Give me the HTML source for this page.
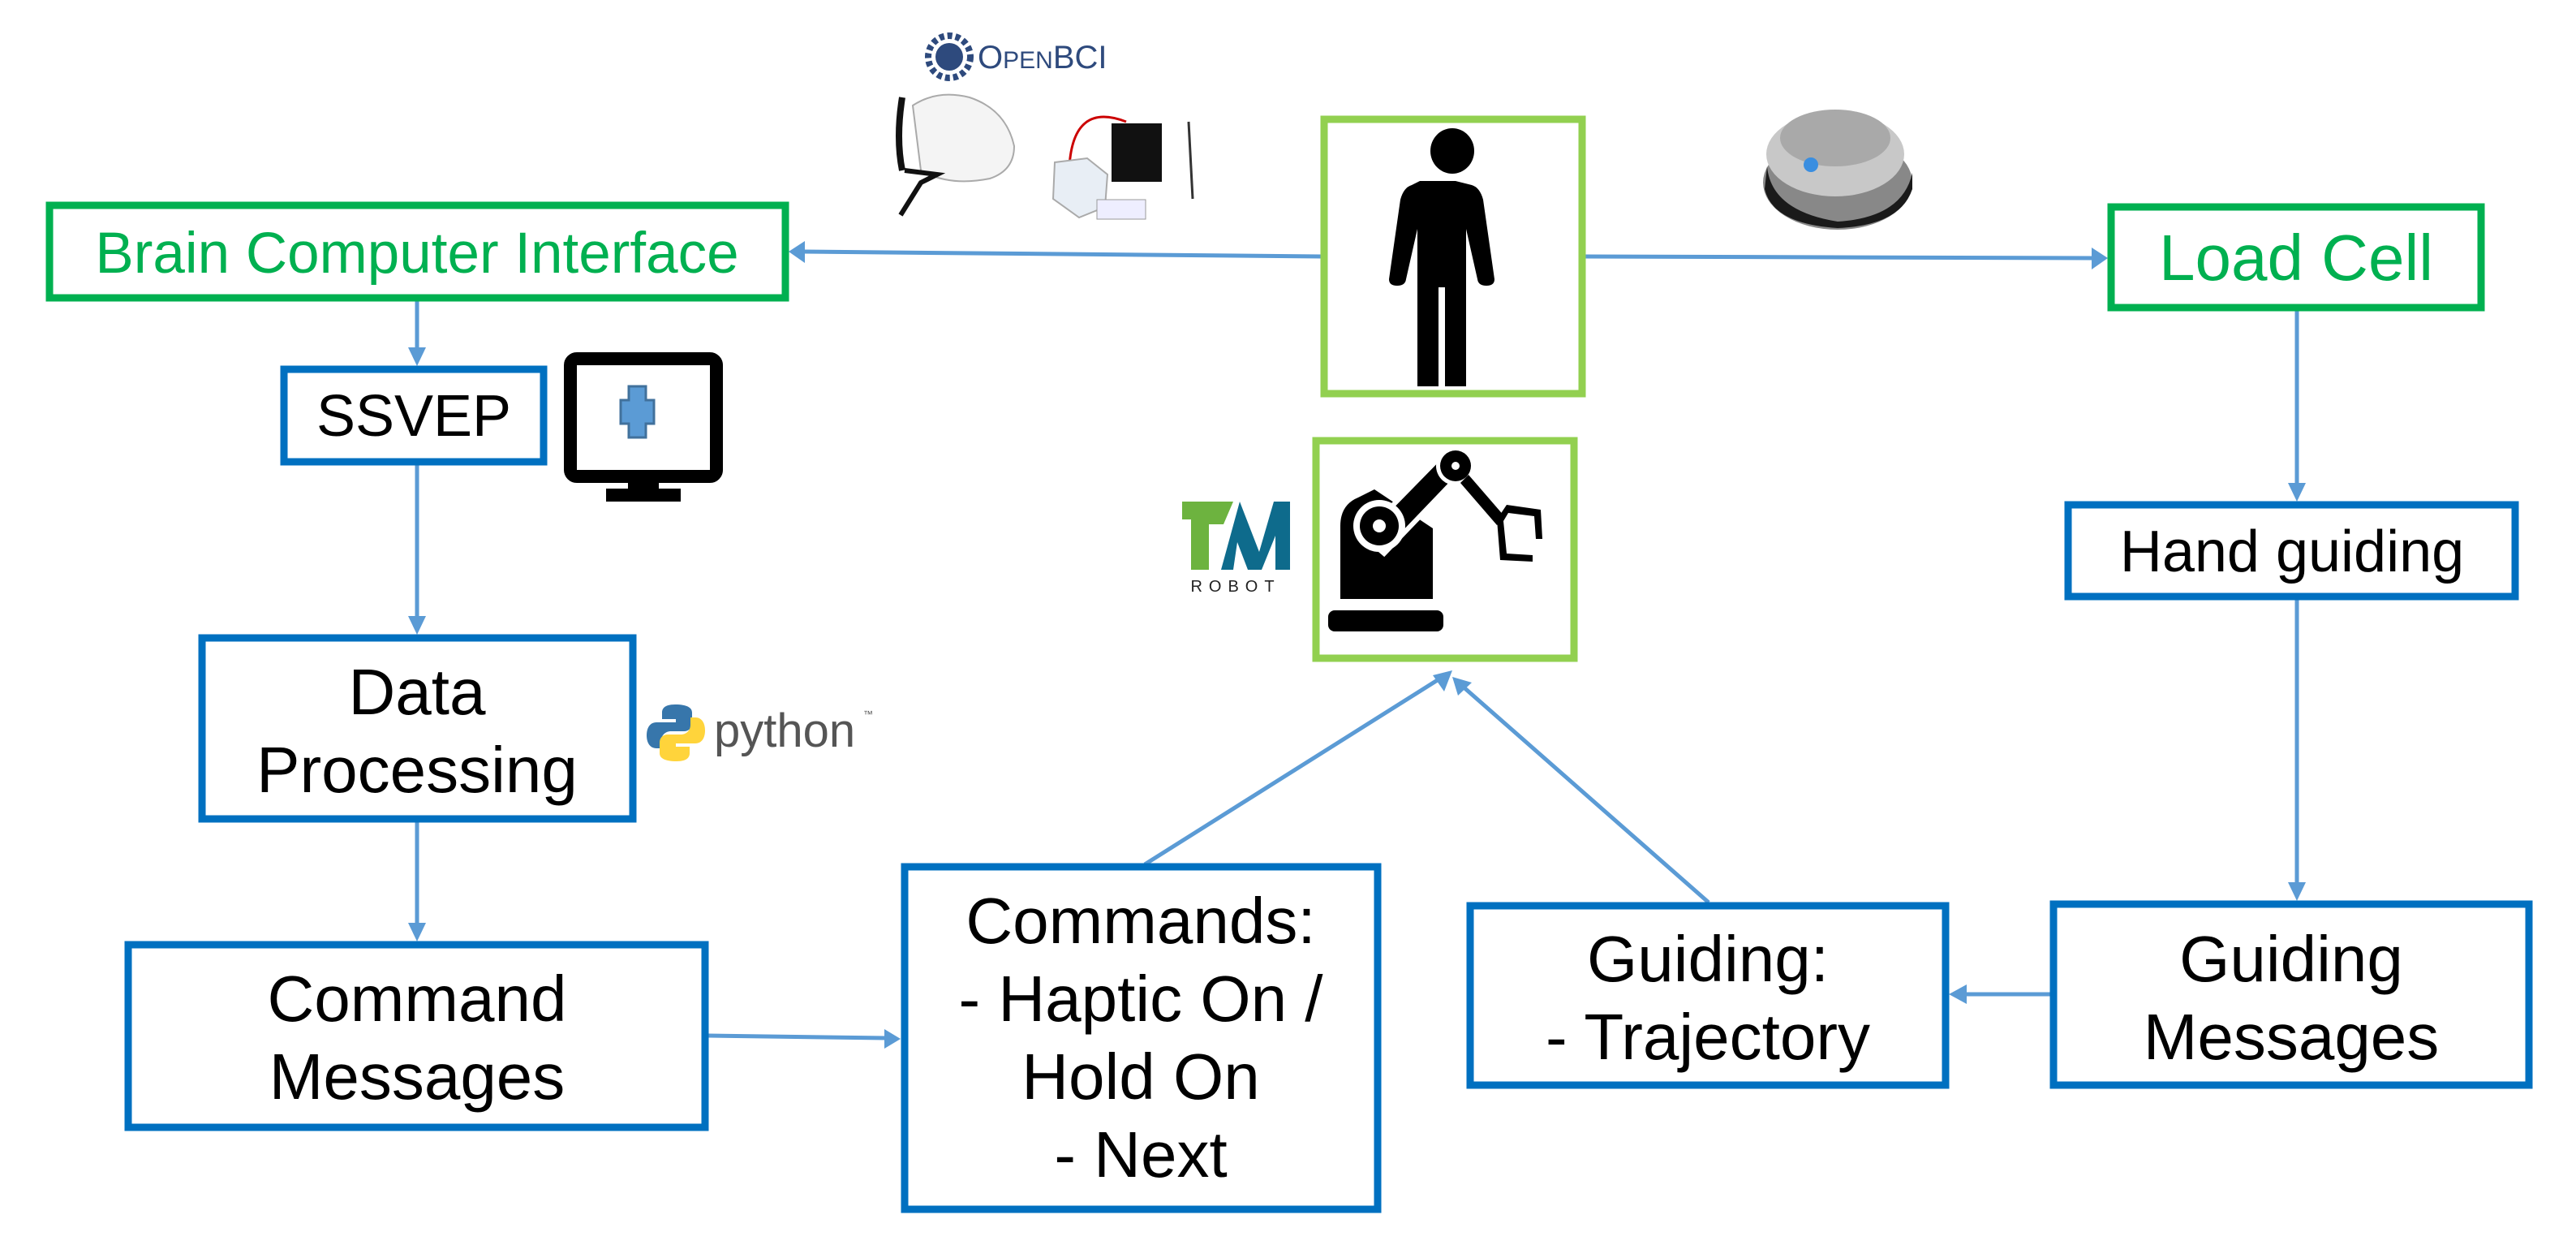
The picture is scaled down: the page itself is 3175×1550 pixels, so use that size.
<!DOCTYPE html>
<html><head><meta charset="utf-8"><style>
html,body{margin:0;padding:0;background:#fff;}
svg{display:block;}
text{font-family:"Liberation Sans",Arial,sans-serif;}
</style></head><body>
<svg width="3175" height="1550" viewBox="0 0 3175 1550" xmlns="http://www.w3.org/2000/svg">
<!-- connectors -->
<g stroke="#5B9BD5" stroke-width="5" fill="none">
<line x1="1628" y1="316" x2="990" y2="310"/>
<line x1="1952" y1="316" x2="2580" y2="318"/>
<line x1="514" y1="371" x2="514" y2="432"/>
<line x1="514" y1="573" x2="514" y2="764"/>
<line x1="514" y1="1013" x2="514" y2="1142"/>
<line x1="873" y1="1276" x2="1092" y2="1279"/>
<line x1="1411" y1="1065" x2="1778" y2="834"/>
<line x1="2106" y1="1112" x2="1802" y2="845"/>
<line x1="2831" y1="383" x2="2831" y2="600"/>
<line x1="2831" y1="739" x2="2831" y2="1092"/>
<line x1="2527" y1="1225" x2="2420" y2="1225"/>
</g>
<g fill="#5B9BD5">
<polygon points="972,310 992,297 992,324"/>
<polygon points="2598,318 2578,305 2578,332"/>
<polygon points="514,451 503,428 525,428"/>
<polygon points="514,782 503,759 525,759"/>
<polygon points="514,1160 503,1137 525,1137"/>
<polygon points="1110,1280 1090,1268 1090,1292"/>
<polygon points="1790,826 1766,832 1780,852"/>
<polygon points="1790,834 1797,857 1814,841"/>
<polygon points="2831,618 2820,595 2842,595"/>
<polygon points="2831,1110 2820,1087 2842,1087"/>
<polygon points="2402,1225 2424,1213 2424,1237"/>
</g>
<!-- boxes -->
<g fill="#fff" stroke-width="9">
<rect x="61" y="253" width="907" height="114" stroke="#00B050"/>
<rect x="2602" y="255" width="456" height="124" stroke="#00B050"/>
<rect x="1632" y="147" width="318" height="338" stroke="#92D050"/>
<rect x="1622" y="543" width="318" height="268" stroke="#92D050"/>
<rect x="350" y="455" width="320" height="114" stroke="#0070C0"/>
<rect x="249" y="786" width="531" height="223" stroke="#0070C0"/>
<rect x="158" y="1164" width="711" height="225" stroke="#0070C0"/>
<rect x="1115" y="1068" width="583" height="422" stroke="#0070C0"/>
<rect x="1812" y="1116" width="586" height="221" stroke="#0070C0"/>
<rect x="2531" y="1114" width="586" height="223" stroke="#0070C0"/>
<rect x="2549" y="622" width="551" height="113" stroke="#0070C0"/>
</g>
<!-- labels -->
<g text-anchor="middle" fill="#000">
<text x="514" y="336" font-size="71" fill="#00B050">Brain Computer Interface</text>
<text x="2830" y="345" font-size="80" fill="#00B050">Load Cell</text>
<text x="510" y="537" font-size="72">SSVEP</text>
<text x="2825" y="704" font-size="72">Hand guiding</text>
<text x="514" y="880" font-size="80">Data</text>
<text x="514" y="976" font-size="80">Processing</text>
<text x="514" y="1258" font-size="80">Command</text>
<text x="514" y="1354" font-size="80">Messages</text>
<text x="1406" y="1162" font-size="80">Commands:</text>
<text x="1406" y="1258" font-size="80">- Haptic On /</text>
<text x="1406" y="1354" font-size="80">Hold On</text>
<text x="1406" y="1450" font-size="80">- Next</text>
<text x="2105" y="1209" font-size="80">Guiding:</text>
<text x="2105" y="1305" font-size="80">- Trajectory</text>
<text x="2824" y="1209" font-size="80">Guiding</text>
<text x="2824" y="1305" font-size="80">Messages</text>
</g>
<!-- monitor -->
<rect x="703" y="442" width="180" height="145" rx="8" fill="#fff" stroke="#000" stroke-width="16"/>
<rect x="774" y="587" width="38" height="18" fill="#000"/>
<rect x="747" y="602" width="92" height="16" fill="#000"/>
<path d="M775 476h21v17h10v29h-10v17h-21v-17h-10v-29h10z" fill="#5B9BD5" stroke="#41719C" stroke-width="3"/>
<!-- python -->
<g>
<path d="M832 868c-14 0-16 6-16 10v8h17v4h-24c-8 0-12 7-12 16s4 16 12 16h6v-9c0-7 5-12 12-12h16c6 0 10-4 10-10v-13c0-6-6-10-21-10z" fill="#3776AB"/>
<path d="M834 938c14 0 16-6 16-10v-8h-17v-4h24c8 0 12-7 12-16s-4-16-12-16h-6v9c0 7-5 12-12 12h-16c-6 0-10 4-10 10v13c0 6 6 10 21 10z" fill="#FFD43B"/>
<text x="880" y="920" font-size="58" fill="#555" font-family="DejaVu Sans, sans-serif">python</text>
<text x="1064" y="884" font-size="12" fill="#555">™</text>
</g>
<!-- person -->
<g fill="#000">
<ellipse cx="1790" cy="186" rx="27" ry="28"/>
<path d="M1740 228q-10 3-14 18l-14 98q0 8 10 8q10 0 11-8l14-62v194h26v-122h8v122h26v-194l14 62q1 8 11 8q10 0 10-8l-14-98q-4-15-14-18l-20-5h-44z"/>
</g>
<!-- robot -->
<g fill="#000">
<rect x="1637" y="752" width="142" height="26" rx="8"/>
<path d="M1652 738v-90q0-26 22-35l20-10l72 48v87z"/>
<path d="M1680 660l98-100l24 22l-96 100z" fill="#000" stroke="#fff" stroke-width="6"/>
<circle cx="1700" cy="648" r="32" fill="#fff"/>
<circle cx="1700" cy="648" r="24" fill="#000"/>
<circle cx="1700" cy="648" r="8" fill="#fff"/>
<circle cx="1794" cy="574" r="24" fill="#fff"/>
<circle cx="1794" cy="574" r="19" fill="#000"/>
<circle cx="1794" cy="574" r="5" fill="#fff"/>
<path d="M1810 585l45 52l-10 10l-45-52z"/>
<path d="M1845 640l12-18l42 6l2 36h-8l-2-28l-32-4l-6 10l4 40l32 2v8l-40-2z"/>
</g>
<!-- TM logo -->
<polygon points="1457,618 1520,618 1508,646 1490,646 1490,702 1468,702 1468,640 1457,640" fill="#6DB33F"/>
<polygon points="1505,702 1528,618 1552,680 1570,618 1590,618 1590,702 1572,702 1572,660 1555,702 1538,702 1525,668 1520,702" fill="#0E6B8C"/>
<text x="1523" y="729" font-size="20" text-anchor="middle" letter-spacing="8" fill="#222">ROBOT</text>
<!-- OpenBCI -->
<circle cx="1170" cy="70" r="26" fill="none" stroke="#2E4A7D" stroke-width="8" stroke-dasharray="6 4"/>
<circle cx="1170" cy="70" r="17" fill="#2E4A7D"/>
<text x="1205" y="84" font-size="40" fill="#2E4A7D">O<tspan font-size="30">PEN</tspan>BCI</text>
<!-- OpenBCI hardware -->
<g>
<path d="M1125 130q30-20 70-10q45 15 55 60q0 30-30 40q-50 10-85-10z" fill="#f4f4f4" stroke="#aaa" stroke-width="2"/>
<path d="M1112 120q-8 50 0 90" fill="none" stroke="#111" stroke-width="8"/>
<path d="M1115 210l40 5l-20 10l-25 40" fill="none" stroke="#111" stroke-width="6"/>
<rect x="1370" y="152" width="62" height="72" fill="#111"/>
<path d="M1318 205q5-80 70-55" fill="none" stroke="#c00" stroke-width="3"/>
<polygon points="1300,200 1340,195 1365,215 1362,255 1330,268 1298,245" fill="#e8eef5" stroke="#aaa" stroke-width="2"/>
<rect x="1352" y="246" width="60" height="24" fill="#eef" stroke="#999"/>
<line x1="1465" y1="150" x2="1470" y2="245" stroke="#333" stroke-width="3"/>
</g>
<!-- load cell -->
<g>
<ellipse cx="2265" cy="225" rx="92" ry="58" fill="#888"/>
<path d="M2178 205q5 55 87 68q80-5 92-60v20q-15 45-92 48q-80-5-90-48z" fill="#1a1a1a"/>
<ellipse cx="2262" cy="190" rx="85" ry="52" fill="#c8c8c8"/>
<ellipse cx="2262" cy="170" rx="68" ry="35" fill="#a9a9a9"/>
<circle cx="2232" cy="203" r="9" fill="#3a8ee0"/>
</g>
</svg>
</body></html>
